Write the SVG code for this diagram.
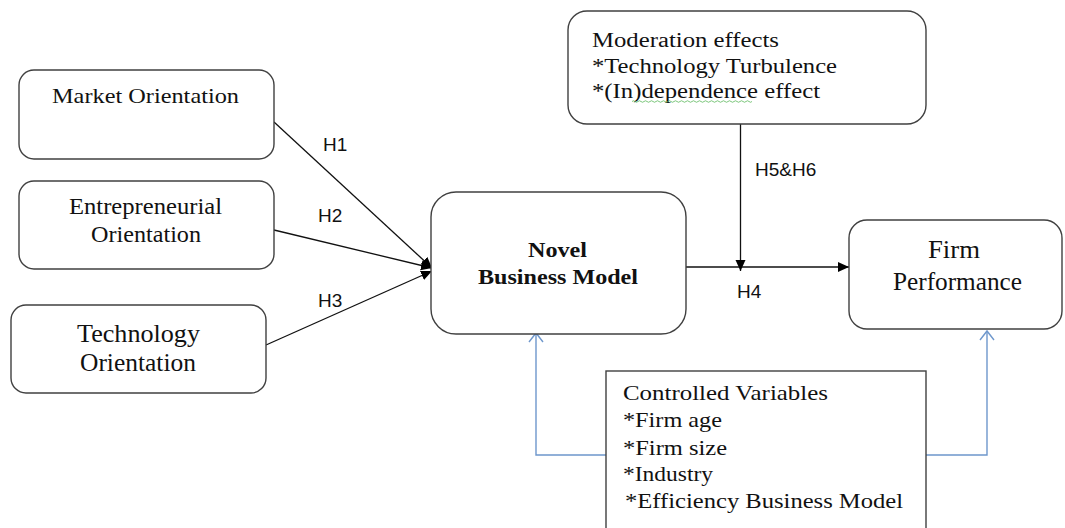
<svg xmlns="http://www.w3.org/2000/svg" width="1065" height="528" viewBox="0 0 1065 528">
  <style>
    .box { fill: #ffffff; stroke: #404040; stroke-width: 1.4; }
    .serif { font-family: "Liberation Serif", "Times New Roman", serif; fill: #111111; }
    .bold { font-weight: bold; }
    .lbl { font-family: "Liberation Sans", Arial, sans-serif; font-size: 19px; fill: #111111; }
    .conn { stroke: #111111; stroke-width: 1.3; fill: none; }
    .blue { stroke: #6e97cc; stroke-width: 1.4; fill: none; }
  </style>
  <defs>
    <marker id="arr" markerUnits="userSpaceOnUse" markerWidth="12" markerHeight="12" viewBox="0 0 12 12" refX="11" refY="6" orient="auto">
      <path d="M0,1 L11,6 L0,11 Z" fill="#000000"/>
    </marker>
    <marker id="open" markerUnits="userSpaceOnUse" markerWidth="18" markerHeight="18" viewBox="0 0 18 18" refX="10" refY="9" orient="auto">
      <path d="M1,2 L10,9 L1,16" fill="none" stroke="#6e97cc" stroke-width="1.4"/>
    </marker>
  </defs>
  <rect width="1065" height="528" fill="#ffffff"/>

  <g id="connectors">
    <line class="conn" x1="274" y1="122" x2="432" y2="268" marker-end="url(#arr)"/>
    <line class="conn" x1="274" y1="230" x2="432" y2="268" marker-end="url(#arr)"/>
    <line class="conn" x1="266" y1="345" x2="432" y2="271" marker-end="url(#arr)"/>
    <line class="conn" x1="686" y1="267" x2="849" y2="267" marker-end="url(#arr)"/>
    <line class="conn" x1="740.5" y1="124" x2="740.5" y2="271" marker-end="url(#arr)"/>
    <polyline class="blue" points="606,455 536,455 536,333" marker-end="url(#open)"/>
    <polyline class="blue" points="926,455 987,455 987,331" marker-end="url(#open)"/>
    <text class="lbl" x="323" y="151">H1</text>
    <text class="lbl" x="318" y="222">H2</text>
    <text class="lbl" x="318" y="307">H3</text>
    <text class="lbl" x="755" y="176">H5&amp;H6</text>
    <text class="lbl" x="737" y="298">H4</text>
  </g>

  <g id="market-orientation">
    <rect class="box" x="19" y="70" width="255" height="89" rx="15"/>
    <text class="serif" font-size="22" x="52" y="103" textLength="187" lengthAdjust="spacingAndGlyphs">Market Orientation</text>
  </g>

  <g id="entrepreneurial-orientation">
    <rect class="box" x="19" y="181" width="255" height="88" rx="15"/>
    <text class="serif" font-size="23" x="69" y="214" textLength="153" lengthAdjust="spacingAndGlyphs">Entrepreneurial</text>
    <text class="serif" font-size="23" x="91" y="242" textLength="110" lengthAdjust="spacingAndGlyphs">Orientation</text>
  </g>

  <g id="technology-orientation">
    <rect class="box" x="11" y="305" width="255" height="88" rx="15"/>
    <text class="serif" font-size="26" x="77" y="342" textLength="123" lengthAdjust="spacingAndGlyphs">Technology</text>
    <text class="serif" font-size="26" x="80" y="371" textLength="116" lengthAdjust="spacingAndGlyphs">Orientation</text>
  </g>

  <g id="novel-business-model">
    <rect class="box" x="431" y="192" width="255" height="142" rx="25"/>
    <text class="serif bold" font-size="21" x="528" y="257" textLength="59" lengthAdjust="spacingAndGlyphs">Novel</text>
    <text class="serif bold" font-size="21" x="478" y="284" textLength="160" lengthAdjust="spacingAndGlyphs">Business Model</text>
  </g>

  <g id="moderation-effects">
    <rect class="box" x="568" y="11" width="358" height="113" rx="19"/>
    <text class="serif" font-size="20" x="592" y="47" textLength="187" lengthAdjust="spacingAndGlyphs">Moderation effects</text>
    <text class="serif" font-size="20" x="592" y="73" textLength="245" lengthAdjust="spacingAndGlyphs">*Technology Turbulence</text>
    <text class="serif" font-size="20" x="592" y="98" textLength="228" lengthAdjust="spacingAndGlyphs">*(In)dependence effect</text>
    <path d="M632,101.5 q1.5,-1.5 3,0 t3,0 t3,0 t3,0 t3,0 t3,0 t3,0 t3,0 t3,0 t3,0 t3,0 t3,0 t3,0 t3,0 t3,0 t3,0 t3,0 t3,0 t3,0 t3,0 t3,0 t3,0 t3,0 t3,0 t3,0 t3,0 t3,0 t3,0 t3,0 t3,0 t3,0 t3,0 t3,0 t3,0 t3,0 t3,0 t3,0 t3,0 t3,0 t3,0" fill="none" stroke="#5cb85c" stroke-width="0.8"/>
  </g>

  <g id="firm-performance">
    <rect class="box" x="849" y="220" width="213" height="109" rx="18"/>
    <text class="serif" font-size="25" x="928" y="258" textLength="52" lengthAdjust="spacingAndGlyphs">Firm</text>
    <text class="serif" font-size="25" x="893" y="290" textLength="129" lengthAdjust="spacingAndGlyphs">Performance</text>
  </g>

  <g id="controlled-variables">
    <rect class="box" x="606" y="371" width="320" height="165"/>
    <text class="serif" font-size="22" x="623" y="400" textLength="205" lengthAdjust="spacingAndGlyphs">Controlled Variables</text>
    <text class="serif" font-size="22" x="623" y="427" textLength="99" lengthAdjust="spacingAndGlyphs">*Firm age</text>
    <text class="serif" font-size="22" x="623" y="455" textLength="104" lengthAdjust="spacingAndGlyphs">*Firm size</text>
    <text class="serif" font-size="22" x="623" y="481" textLength="90" lengthAdjust="spacingAndGlyphs">*Industry</text>
    <text class="serif" font-size="22" x="625" y="508" textLength="278" lengthAdjust="spacingAndGlyphs">*Efficiency Business Model</text>
  </g>
</svg>
